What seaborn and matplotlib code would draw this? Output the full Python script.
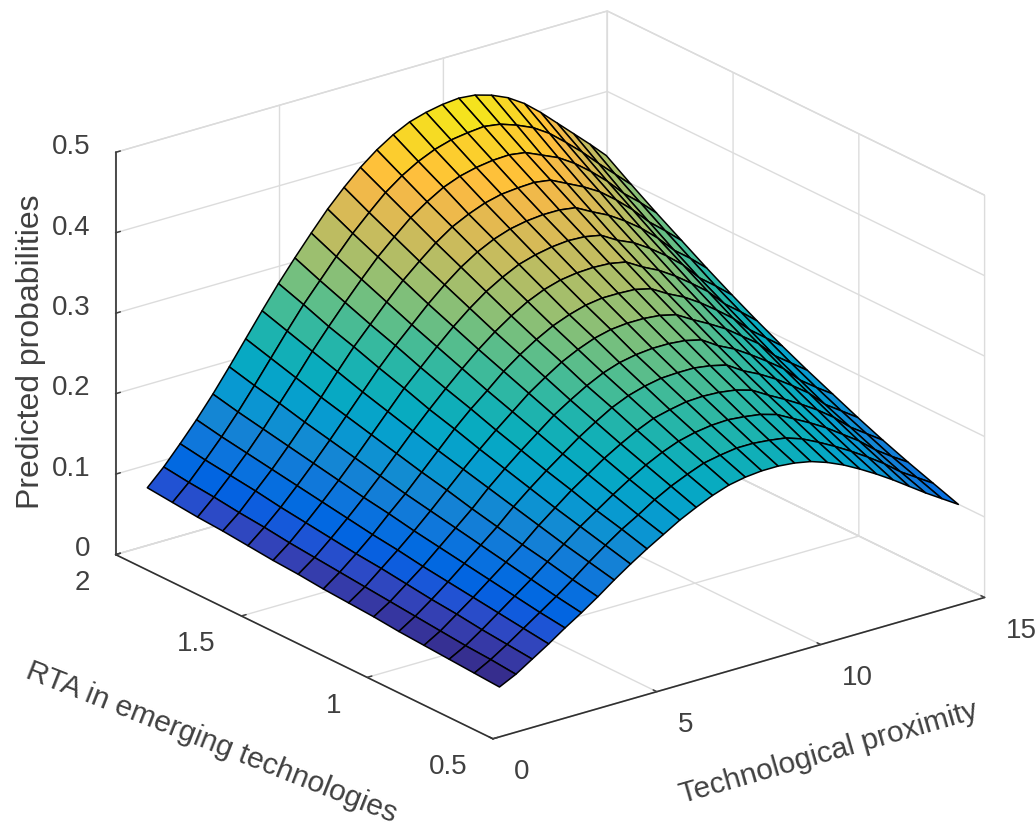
import numpy as np
import seaborn as sns
import matplotlib
matplotlib.use('Agg')
import matplotlib.pyplot as plt
from matplotlib.transforms import ScaledTranslation

# values
prox = [0.2, 0.7, 1.2, 1.7, 2.2, 2.7, 3.2, 3.7, 4.2, 4.7, 5.2, 5.7, 6.2, 6.7, 7.2, 7.7, 8.2, 8.7, 9.2, 9.7,
        10.2, 10.7, 11.2, 11.7, 12.2, 12.7, 13.2, 13.7, 14.2]
rta = [0.5, 0.6, 0.7, 0.8, 0.9, 1.0, 1.1, 1.2, 1.3, 1.4, 1.5, 1.6, 1.7, 1.8, 1.9]

p00 = [.062,.072,.085,.098,.112,.125,.139,.154,.168,.181,.193,.205,.215,.224,.231,.235,.237,.237,.235,.231,.224,.215,.204,.192,.179,.165,.151,.138,.125]
p01 = [.064,.075,.088,.102,.116,.130,.145,.161,.176,.190,.202,.215,.226,.235,.243,.247,.250,.250,.248,.245,.238,.228,.217,.205,.192,.178,.162,.149,.136]
p02 = [.066,.077,.091,.106,.121,.136,.152,.168,.184,.198,.212,.225,.237,.247,.255,.260,.263,.264,.262,.259,.253,.242,.231,.219,.205,.191,.174,.160,.147]
p03 = [.068,.080,.095,.110,.126,.142,.158,.176,.192,.208,.222,.236,.248,.259,.268,.273,.277,.278,.277,.274,.268,.256,.245,.233,.220,.205,.187,.173,.159]
p04 = [.070,.083,.098,.114,.131,.148,.165,.184,.201,.217,.232,.247,.260,.272,.281,.287,.291,.292,.292,.289,.284,.271,.261,.249,.235,.220,.200,.186,.172]
p05 = [.073,.086,.102,.118,.136,.154,.172,.192,.210,.227,.243,.259,.272,.284,.294,.301,.305,.307,.307,.305,.300,.287,.277,.264,.250,.235,.215,.200,.186]
p06 = [.075,.089,.106,.123,.141,.160,.180,.200,.219,.237,.254,.271,.285,.298,.308,.316,.321,.323,.323,.321,.316,.304,.293,.281,.266,.251,.230,.215,.200]
p07 = [.077,.092,.109,.127,.147,.166,.187,.208,.229,.248,.265,.283,.298,.311,.322,.330,.336,.339,.339,.338,.333,.321,.311,.298,.283,.267,.247,.231,.215]
p08 = [.080,.095,.113,.132,.152,.173,.195,.217,.238,.258,.277,.295,.311,.325,.337,.346,.352,.355,.356,.355,.351,.339,.329,.316,.301,.285,.264,.248,.231]
p09 = [.082,.098,.117,.137,.158,.180,.203,.226,.249,.269,.289,.308,.325,.340,.352,.362,.368,.372,.374,.373,.369,.357,.348,.335,.320,.303,.281,.265,.248]
p10 = [.085,.102,.121,.142,.164,.187,.211,.235,.259,.281,.301,.321,.339,.355,.368,.378,.385,.389,.391,.391,.388,.377,.367,.354,.339,.321,.300,.284,.266]
p11 = [.088,.105,.126,.147,.170,.194,.219,.245,.270,.292,.314,.335,.353,.370,.384,.394,.402,.407,.409,.410,.407,.397,.387,.375,.359,.341,.320,.303,.285]
p12 = [.090,.109,.130,.152,.176,.202,.228,.255,.280,.304,.327,.349,.368,.386,.400,.412,.420,.425,.428,.429,.426,.417,.408,.395,.379,.361,.340,.323,.304]
p13 = [.093,.112,.134,.157,.182,.209,.237,.265,.292,.316,.340,.363,.383,.402,.417,.429,.438,.444,.447,.449,.446,.439,.430,.417,.400,.382,.362,.343,.324]
p14 = [.096,.116,.139,.163,.189,.217,.246,.275,.303,.329,.354,.378,.399,.418,.434,.447,.457,.463,.467,.469,.467,.461,.452,.439,.422,.403,.384,.365,.345]

x_ticks = [0, 5, 10, 15]
y_ticks = [0.5, 1, 1.5, 2]
z_ticks = [0, 0.1, 0.2, 0.3, 0.4, 0.5]

# matlab parula colours
parula_colors = [
    (.2081,.1663,.5292),(.2116,.1898,.5777),(.2123,.2138,.6270),(.2081,.2386,.6771),(.1959,.2645,.7279),
    (.1707,.2919,.7792),(.1253,.3242,.8303),(.0591,.3598,.8683),(.0117,.3875,.8820),(.0060,.4086,.8828),
    (.0165,.4266,.8786),(.0329,.4430,.8720),(.0498,.4586,.8641),(.0629,.4737,.8554),(.0723,.4887,.8467),
    (.0779,.5040,.8384),(.0793,.5200,.8312),(.0749,.5375,.8263),(.0641,.5570,.8240),(.0488,.5772,.8228),
    (.0343,.5966,.8199),(.0265,.6137,.8135),(.0239,.6287,.8038),(.0231,.6418,.7913),(.0228,.6535,.7768),
    (.0267,.6642,.7607),(.0384,.6743,.7436),(.0590,.6838,.7254),(.0843,.6928,.7062),(.1133,.7015,.6859),
    (.1453,.7098,.6646),(.1801,.7177,.6424),(.2178,.7250,.6193),(.2586,.7317,.5954),(.3022,.7376,.5712),
    (.3482,.7424,.5473),(.3953,.7459,.5244),(.4420,.7481,.5033),(.4871,.7491,.4840),(.5300,.7491,.4661),
    (.5709,.7485,.4494),(.6099,.7473,.4337),(.6473,.7456,.4188),(.6834,.7435,.4044),(.7184,.7411,.3905),
    (.7525,.7384,.3768),(.7858,.7356,.3633),(.8185,.7327,.3498),(.8507,.7299,.3360),(.8824,.7274,.3217),
    (.9139,.7258,.3063),(.9450,.7261,.2886),(.9739,.7314,.2666),(.9938,.7455,.2403),(.9990,.7653,.2164),
    (.9955,.7861,.1967),(.9880,.8066,.1794),(.9789,.8271,.1633),(.9697,.8481,.1475),(.9626,.8705,.1309),
    (.9589,.8949,.1132),(.9598,.9218,.0948),(.9661,.9514,.0755),(.9763,.9831,.0538)]

sns.set_theme(style='white', font='Liberation Sans')
txt = '#404040'
parula = sns.blend_palette(parula_colors, n_colors=256, as_cmap=True)

X, Y = np.meshgrid(prox, rta)
Z = np.array([p00, p01, p02, p03, p04, p05, p06, p07, p08, p09, p10, p11, p12, p13, p14])

fig = plt.figure(figsize=(10.36, 8.22), dpi=100)
ax = fig.add_axes([21 / 1036, 25 / 822, 1, 1], projection='3d', proj_type='ortho')
ax.view_init(elev=22, azim=-127.5)
ax.set_box_aspect((1, 1, 0.7), zoom=1.155)

surf = ax.plot_surface(X, Y, Z, rstride=1, cstride=1, cmap=parula, vmin=0.065, vmax=0.48,
                       edgecolor='black', linewidth=1.1, antialiased=True, shade=False)
surf.set_clip_on(False)

ax.set_xlim(0, 15, view_margin=0)
ax.set_ylim(0.5, 2, view_margin=0)
ax.set_zlim(0, 0.5, view_margin=0)
ax.set_xticks(x_ticks)
ax.set_yticks(y_ticks)
ax.set_zticks(z_ticks)
ax.set_xticklabels(['0', '5', '10', '15'], ha='left', va='bottom')
ax.set_yticklabels(['0.5', '1', '1.5', '2'], ha='right', va='bottom')
ax.set_zticklabels(['0', '0.1', '0.2', '0.3', '0.4', '0.5'], ha='right', va='bottom')

for a in [ax.xaxis, ax.yaxis, ax.zaxis]:
    a.set_pane_color((1, 1, 1, 1))
    a.pane.set_edgecolor('#d9d9d9')
    a.line.set_color('#303030')
    a.line.set_linewidth(1.2)
    a._axinfo['grid'].update(color='#dcdcdc', linewidth=1.0)
    a._axinfo['tick'].update(inward_factor=0.0, outward_factor=0.12, linewidth={True: 1.1, False: 0.5})
ax.tick_params(axis='both', colors=txt, labelsize=20)
ax.xaxis.set_tick_params(pad=9)
ax.yaxis.set_tick_params(pad=8)
ax.zaxis.set_tick_params(pad=1)

ax.set_xlabel('Technological proximity', fontsize=21.5, color=txt, labelpad=18)
ax.set_ylabel('RTA in emerging technologies', fontsize=21.5, color=txt, labelpad=18)
ax.set_zlabel('Predicted probabilities', fontsize=23, color=txt, labelpad=14)

# the y title is flatter than the axis it sits on, keep mplot3d from turning it back
ax.yaxis.label.set_rotation(-21.5)
ax.yaxis.label.set_rotation = lambda angle: None


# mplot3d resets the text transforms while drawing, so shift them through get_transform
def nudge(text, dx, dy):
    shifted = ax.transData + ScaledTranslation(dx / 100, dy / 100, fig.dpi_scale_trans)
    text.get_transform = lambda: shifted


for a, dx, dy in [(ax.xaxis, 42, -11), (ax.yaxis, -31, -27), (ax.zaxis, 14, -3)]:
    nudge(a.label, dx, dy)
for a, dy in [(ax.xaxis, -14), (ax.yaxis, -13), (ax.zaxis, -9)]:
    for tick in a.get_major_ticks():
        nudge(tick.label1, 0, dy)

fig.savefig('out.png', dpi=100)
